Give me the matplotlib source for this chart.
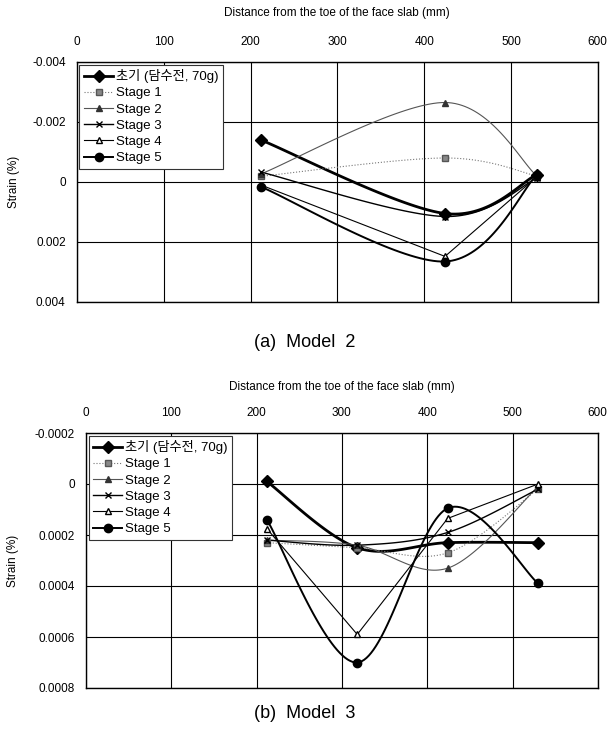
import numpy as np
import matplotlib
matplotlib.use('Agg')
import matplotlib.pyplot as plt

plt.rcParams['font.family'] = ['Liberation Sans', 'Noto Sans CJK KR', 'DejaVu Sans']

labels = ['초기 (담수전, 70g)', 'Stage 1', 'Stage 2', 'Stage 3', 'Stage 4', 'Stage 5']

# Model 2
x_m2 = [212, 424, 530]
m2_init = [-0.0014, 0.00105, -0.00025]
m2_s1 = [-0.00019, -0.0008, -0.0002]
m2_s2 = [-0.00027, -0.00265, -0.0002]
m2_s3 = [-0.00033, 0.00115, -0.00013]
m2_s4 = [0.00010, 0.00248, -0.00018]
m2_s5 = [0.00016, 0.00265, -0.00025]

# Model 3
x_m3 = [212, 318, 424, 530]
m3_init = [-0.00001, 0.00025, 0.00023, 0.00023]
m3_s1 = [0.00023, 0.00025, 0.00027, 0.00002]
m3_s2 = [0.00022, 0.00024, 0.00033, 0.00001]
m3_s3 = [0.00022, 0.00024, 0.00019, 0.00002]
m3_s4 = [0.000175, 0.00059, 0.000135, 0.0]
m3_s5 = [0.00014, 0.0007, 0.000095, 0.00039]

styles = [
    dict(color='black', lw=2.0, marker='D', ms=6, mfc='black', mec='black', smooth=True),
    dict(color='#777777', lw=0.8, ls=':', marker='s', ms=4, mfc='#888888', mec='#555555', smooth=True),
    dict(color='#555555', lw=0.8, marker='^', ms=4.5, mfc='#333333', mec='#333333', smooth=True),
    dict(color='black', lw=1.0, marker='x', ms=5, mfc='black', mec='black', smooth=True),
    dict(color='black', lw=0.8, marker='^', ms=5, mfc='white', mec='black', smooth=False),
    dict(color='black', lw=1.4, marker='o', ms=6, mfc='black', mec='black', smooth=True),
]


def smooth_curve(x, y, n=40):
    # Catmull-Rom style curve through the points (Excel-like smoothing)
    x = np.asarray(x, float)
    y = np.asarray(y, float)
    px = np.concatenate([[x[0]], x, [x[-1]]])
    py = np.concatenate([[y[0]], y, [y[-1]]])
    xs, ys = [], []
    t = np.linspace(0, 1, n)
    for i in range(1, len(px) - 2):
        p0 = np.array([px[i], py[i]])
        p3 = np.array([px[i + 1], py[i + 1]])
        c1 = p0 + (np.array([px[i + 1], py[i + 1]]) - np.array([px[i - 1], py[i - 1]])) / 6
        c2 = p3 - (np.array([px[i + 2], py[i + 2]]) - np.array([px[i], py[i]])) / 6
        b = ((1 - t)**3)[:, None] * p0 + (3 * (1 - t)**2 * t)[:, None] * c1 \
            + (3 * (1 - t) * t**2)[:, None] * c2 + (t**3)[:, None] * p3
        xs.extend(b[:, 0])
        ys.extend(b[:, 1])
    return xs, ys


def draw(ax, x, series, ylim, yticks, yticklabels, ylab_x, xlab_y, title_y, title):
    for lab, y, st in zip(labels, series, styles):
        st = dict(st)
        smooth = st.pop('smooth')
        ls = st.pop('ls', '-')
        marker = st.pop('marker')
        ms = st.pop('ms')
        mfc = st.pop('mfc')
        mec = st.pop('mec')
        if smooth:
            sx, sy = smooth_curve(x, y)
        else:
            sx, sy = x, y
        ax.plot(sx, sy, ls=ls, zorder=3, **st)
        ax.plot(x, y, ls='none', marker=marker, ms=ms, mfc=mfc, mec=mec,
                mew=1.0, zorder=4)
        ax.plot([], [], ls=ls, marker=marker, ms=ms, mfc=mfc, mec=mec,
                label=lab, **st)
    ax.set_xlim(0, 600)
    ax.set_ylim(*ylim)
    ax.set_xticks([0, 100, 200, 300, 400, 500, 600])
    ax.set_yticks(yticks)
    ax.set_yticklabels(yticklabels)
    ax.xaxis.tick_top()
    ax.xaxis.set_label_position('top')
    ax.tick_params(length=0, labelsize=8.5)
    ax.tick_params(axis='x', pad=10)
    ax.tick_params(axis='y', pad=8)
    ax.set_xlabel('Distance from the toe of the face slab (mm)', fontsize=8.5)
    ax.xaxis.set_label_coords(0.5, xlab_y)
    ax.set_ylabel('Strain (%)', fontsize=8.5)
    ax.yaxis.set_label_coords(ylab_x, 0.5)
    ax.grid(color='black', lw=0.8)
    for s in ax.spines.values():
        s.set_linewidth(1.0)
    leg = ax.legend(loc='upper left', fontsize=9.5, frameon=True, fancybox=False,
                    edgecolor='#333333', borderaxespad=0.2, handlelength=2.2,
                    labelspacing=0.3, borderpad=0.35, handletextpad=0.2)
    leg.get_frame().set_linewidth(0.8)
    leg.get_frame().set_alpha(1)
    fig.text(0.5, title_y, title, ha='center', va='center', fontsize=13)


fig = plt.figure(figsize=(6.1, 7.38), dpi=100)
ax1 = fig.add_axes([0.126, 1 - 302 / 738, 0.854, 240 / 738])
ax2 = fig.add_axes([0.141, 1 - 688 / 738, 0.839, 255 / 738])

draw(ax1, x_m2, [m2_init, m2_s1, m2_s2, m2_s3, m2_s4, m2_s5],
     (0.004, -0.004), [-0.004, -0.002, 0, 0.002, 0.004],
     ['-0.004', '-0.002', '0', '0.002', '0.004'], -0.11, 1.19,
     1 - 343 / 738, '(a)  Model  2')
draw(ax2, x_m3, [m3_init, m3_s1, m3_s2, m3_s3, m3_s4, m3_s5],
     (0.0008, -0.0002), [-0.0002, 0, 0.0002, 0.0004, 0.0006, 0.0008],
     ['-0.0002', '0', '0.0002', '0.0004', '0.0006', '0.0008'], -0.13, 1.17,
     1 - 713 / 738, '(b)  Model  3')

fig.savefig('out.png', dpi=100)
